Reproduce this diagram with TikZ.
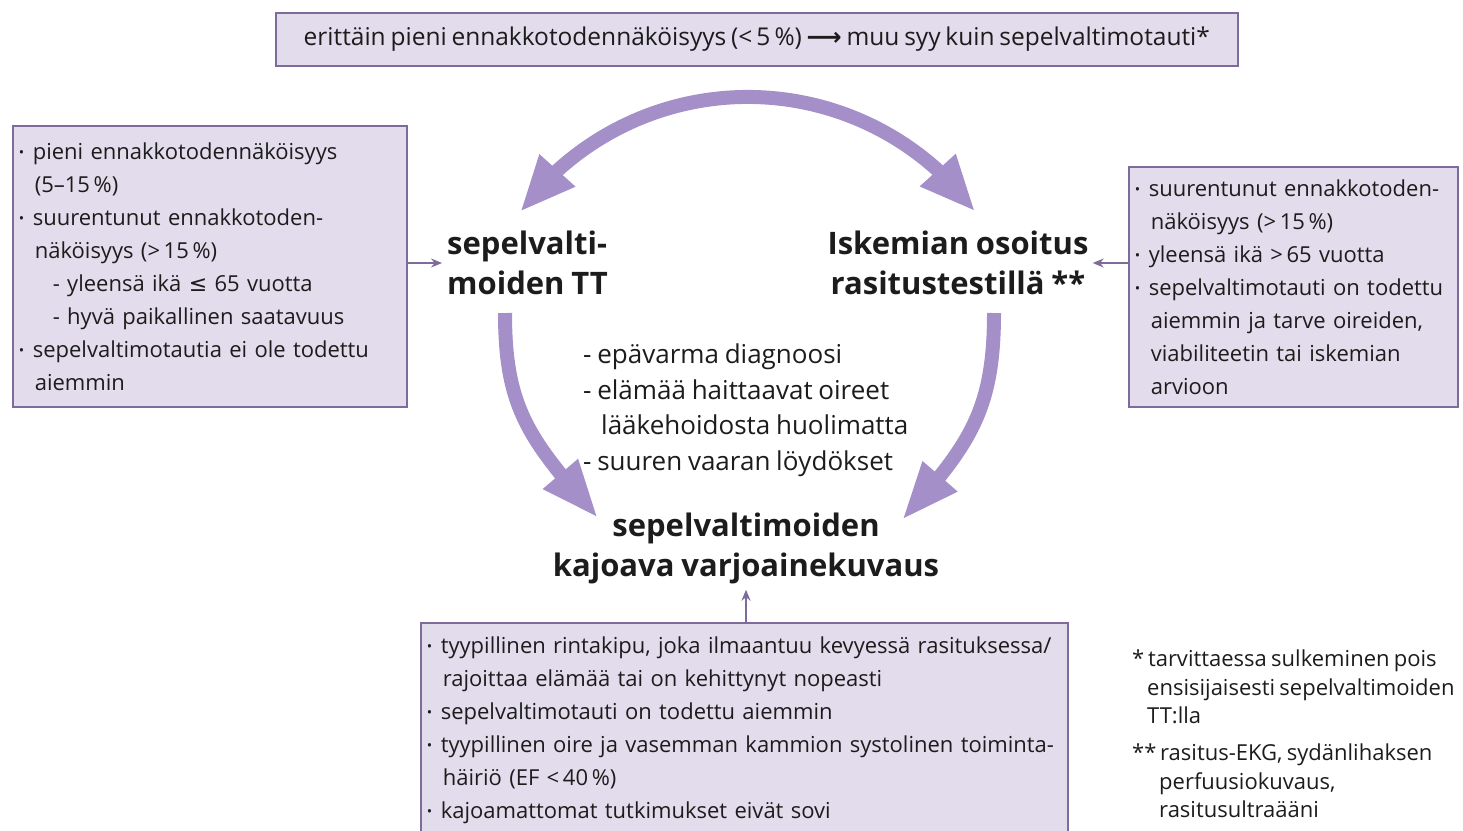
\documentclass[tikz,border=0pt]{standalone}
\usepackage{fontspec}
\setmainfont{Open Sans}[WordSpace=0.85]
\newfontfamily\boxfont{Open Sans}[WordSpace=0.75]
\newfontfamily\symfont{DejaVu Sans}
\usetikzlibrary{arrows.meta,bending}
\definecolor{cfill}{HTML}{E3DCEC}
\definecolor{cline}{HTML}{7C6B9B}
\definecolor{carrow}{HTML}{A48FC8}
\definecolor{ctext}{HTML}{1C1C1C}
\newcommand{\bul}{\makebox[14pt][l]{\raisebox{2pt}{\scalebox{0.65}{\textbullet}}}}
\newcommand{\ind}{\hspace*{16pt}}
\newcommand{\subind}{\hspace*{34pt}}

\begin{document}
\begin{tikzpicture}[
  x=1pt, y=-1pt,
  text=ctext,
  infobox/.style={draw=cline, fill=cfill, line width=1.6pt, anchor=north west,
                  align=left, inner xsep=6pt, inner ysep=0pt,
                  font=\boxfont\fontsize{22}{33}\selectfont},
  topbox/.style={infobox, align=center, font=\boxfont\fontsize{24.5}{30}\selectfont},
  biglabel/.style={font=\bfseries\fontsize{31}{40}\selectfont, inner sep=0pt},
  midlist/.style={font=\fontsize{26}{35.5}\selectfont, align=left, inner sep=0pt},
  footnote/.style={font=\boxfont\fontsize{22}{28.5}\selectfont, align=left,
                   anchor=north west, inner sep=0pt},
  bigarrow/.style={line width=14pt, draw=carrow},
  bighead/.style={bigarrow, -{Triangle[length=58pt,width=42pt]}},
  thinarrow/.style={-{Stealth[length=11pt,width=9pt]}, line width=1.6pt, draw=cline},
]
\useasboundingbox (0,0) rectangle (1463,830);

% ---- boxes ----
\node[topbox, minimum width=962pt, minimum height=53pt] (top) at (275,12)
  {erittäin pieni ennakkotodennäköisyys (<\,5\,\%) {\symfont\bfseries ⟶} muu syy kuin sepelvaltimotauti*};
\node[infobox, text width=382pt, minimum height=281pt] (leftbox) at (12,125)
  {\bul pieni ennakkotodennäköisyys\\
   \ind(5–15\,\%)\\
   \bul suurentunut ennakkotoden-\\
   \ind näköisyys (>\,15\,\%)\\
   \subind- yleensä ikä {\symfont ≤} 65 vuotta\\
   \subind- hyvä paikallinen saatavuus\\
   \bul sepelvaltimotautia ei ole todettu\\
   \ind aiemmin};
\node[infobox, text width=317pt, minimum height=240pt] (rightbox) at (1128,166)
  {\bul suurentunut ennakkotoden-\\
   \ind näköisyys (>\,15\,\%)\\
   \bul yleensä ikä >\,65 vuotta\\
   \bul sepelvaltimotauti on todettu\\
   \ind aiemmin ja tarve oireiden,\\
   \ind viabiliteetin tai iskemian\\
   \ind arvioon};
\node[infobox, text width=635pt, minimum height=214pt] (botbox) at (420,622)
  {\bul tyypillinen rintakipu, joka ilmaantuu kevyessä rasituksessa/\\
   \ind rajoittaa elämää tai on kehittynyt nopeasti\\
   \bul sepelvaltimotauti on todettu aiemmin\\
   \bul tyypillinen oire ja vasemman kammion systolinen toiminta-\\
   \ind häiriö (EF <\,40\,\%)\\
   \bul kajoamattomat tutkimukset eivät sovi};

% ---- labels ----
\node[biglabel, anchor=west, align=left] (ct) at (447,263) {sepelvalti-\\moiden TT};
\node[biglabel, align=center] (isk) at (958,263) {Iskemian osoitus\\rasitustestillä **};
\node[biglabel, align=center] (kaj) at (746,548) {sepelvaltimoiden\\kajoava varjoainekuvaus};
\node[midlist, anchor=west] (mid) at (583,410)
  {- epävarma diagnoosi\\
   - elämää haittaavat oireet\\
   \hspace*{18pt}lääkehoidosta huolimatta\\
   - suuren vaaran löydökset};

% ---- footnotes ----
\node[footnote] (fn1) at (1132,650)
  {*\,tarvittaessa sulkeminen pois\\
   \hspace*{15pt}ensisijaisesti sepelvaltimoiden\\
   \hspace*{15pt}TT:lla};
\node[footnote] (fn2) at (1132,744)
  {**\,rasitus-EKG, sydänlihaksen\\
   \hspace*{27pt}perfuusiokuvaus,\\
   \hspace*{27pt}rasitusultraääni};

% ---- big arrows ----
\coordinate (arcL) at (520,212);
\coordinate (downL) at (505,313);
\coordinate (tipL) at (598,518);
\coordinate (downR) at (994,313);
\coordinate (tipR) at (902,520);
\draw[bigarrow, {Triangle[length=56pt,width=44pt]}-{Triangle[length=56pt,width=44pt]}]
  (arcL) arc[start angle=216.4, end angle=323.5, radius=283];
\draw[bighead] (downL) .. controls (505,410) and (530,440) .. (tipL);
\draw[bighead] (downR) .. controls (994,410) and (970,445) .. (tipR);

% ---- thin arrows ----
\draw[thinarrow] (leftbox.east |- ct.west) -- ([xshift=-5pt]ct.west);
\draw[thinarrow] (rightbox.west |- isk.east) -- ([xshift=4pt]isk.east);
\draw[thinarrow] (botbox.north -| kaj.south) -- ([yshift=-6pt]kaj.south);
\end{tikzpicture}
\end{document}
